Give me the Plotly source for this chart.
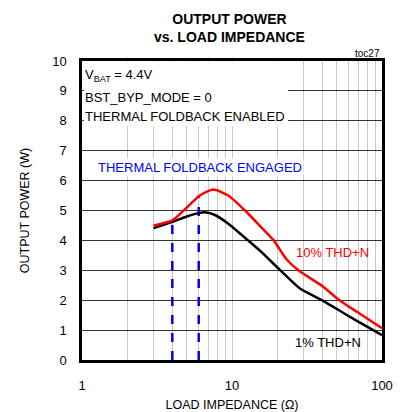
import plotly.graph_objects as go

# Data
load_red = [3.0, 4.0, 5.0, 6.1, 7.5, 9.45, 12.2, 15.8, 19.0, 20.8, 23.0, 27.7, 40.6, 52.0, 70.0, 100.0]
power_red = [4.5, 4.67, 5.1, 5.5, 5.7, 5.5, 5.0, 4.42, 4.0, 3.7, 3.38, 3.0, 2.45, 2.0, 1.57, 1.06]

load_black = [3.0, 4.0, 5.0, 6.1, 6.6, 7.7, 9.45, 12.8, 15.8, 21.0, 28.4, 40.6, 61.2, 100.0]
power_black = [4.41, 4.62, 4.8, 4.92, 4.94, 4.85, 4.56, 4.0, 3.6, 3.0, 2.39, 1.98, 1.44, 0.83]

foldback_load = [4.0, 6.0]
foldback_power = [4.67, 5.5]

x_ticks = [1, 10, 100]
y_ticks = list(range(0, 11))

conditions = ["V<sub>BAT</sub> = 4.4V", "BST_BYP_MODE = 0", "THERMAL FOLDBACK ENABLED"]
condition_y = [9.5, 8.77, 8.13]

FONT = "Liberation Sans, Arial, sans-serif"

fig = go.Figure()

for xv, yv in zip(foldback_load, foldback_power):
    fig.add_trace(go.Scatter(x=[xv, xv], y=[0, yv], mode="lines",
                             line=dict(color="#0000ff", width=2.5, dash="dash"),
                             showlegend=False, hoverinfo="skip"))

fig.add_trace(go.Scatter(x=load_black, y=power_black, mode="lines",
                         line=dict(color="black", width=2.5, shape="spline", smoothing=0.6),
                         showlegend=False))
fig.add_trace(go.Scatter(x=load_red, y=power_red, mode="lines",
                         line=dict(color="#ff0000", width=2.5, shape="spline", smoothing=0.6),
                         showlegend=False))

fig.update_layout(
    width=401, height=412,
    margin=dict(l=82, r=19, t=61, b=52, autoexpand=False),
    paper_bgcolor="white", plot_bgcolor="white",
    font=dict(family=FONT, size=12, color="black"),
    showlegend=False,
)

fig.update_xaxes(type="log", range=[0, 2], tickvals=x_ticks, ticktext=[str(v) for v in x_ticks],
                 showgrid=True, gridcolor="#c8c8c8", gridwidth=1,
                 minor=dict(showgrid=True, gridcolor="#c8c8c8", gridwidth=1,
                            tickvals=[v * d for d in (1, 10) for v in range(2, 10)]),
                 showline=True, linecolor="black", linewidth=2.5, mirror=True,
                 ticks="", ticklabelstandoff=12, zeroline=False, automargin=False,
                 tickfont=dict(family=FONT, size=13),
                 title=dict(text="LOAD IMPEDANCE (Ω)", standoff=14,
                            font=dict(family=FONT, size=12.5)))
fig.update_yaxes(range=[0, 10], tickvals=y_ticks,
                 showgrid=True, gridcolor="#333333", gridwidth=1,
                 showline=True, linecolor="black", linewidth=2.5, mirror=True,
                 ticks="", ticklabelstandoff=10, zeroline=False, automargin=False,
                 tickfont=dict(family=FONT, size=13),
                 title=dict(text="OUTPUT POWER (W)", standoff=20,
                            font=dict(family=FONT, size=12.5)))

# white panel behind the condition text (covers grid like the reference)
fig.add_shape(type="rect", xref="paper", yref="y", x0=0.006, x1=0.687, y0=7.83, y1=9.97,
              fillcolor="white", line=dict(width=0), layer="above")

for txt, yv in zip(conditions, condition_y):
    fig.add_annotation(x=0, y=yv, xref="x", yref="y", xanchor="left", yanchor="middle",
                       xshift=1, align="left", showarrow=False, text=txt,
                       font=dict(family=FONT, size=13, color="black"))

fig.add_annotation(x=0.493, y=1, xref="paper", yref="paper", xanchor="center", yanchor="top",
                   yshift=52, showarrow=False,
                   text="<b>OUTPUT POWER<br>vs. LOAD IMPEDANCE</b>",
                   font=dict(family=FONT, size=14, color="black"))
fig.add_annotation(x=0.787, y=6.44, xref="x", yref="y", showarrow=False, bgcolor="white",
                   text="THERMAL FOLDBACK ENGAGED", borderpad=1,
                   font=dict(family=FONT, size=13, color="#0000ff"))
fig.add_annotation(x=1.673, y=3.6, xref="x", yref="y", showarrow=False,
                   text="10% THD+N", font=dict(family=FONT, size=13, color="#ff0000"))
fig.add_annotation(x=1.64, y=0.57, xref="x", yref="y", showarrow=False,
                   text="1% THD+N", font=dict(family=FONT, size=13, color="black"))
fig.add_annotation(x=1, y=1, xref="paper", yref="paper", xanchor="right", yanchor="bottom",
                   showarrow=False, text="toc27", yshift=0,
                   font=dict(family=FONT, size=10, color="black"))

fig.write_html("out.html")
